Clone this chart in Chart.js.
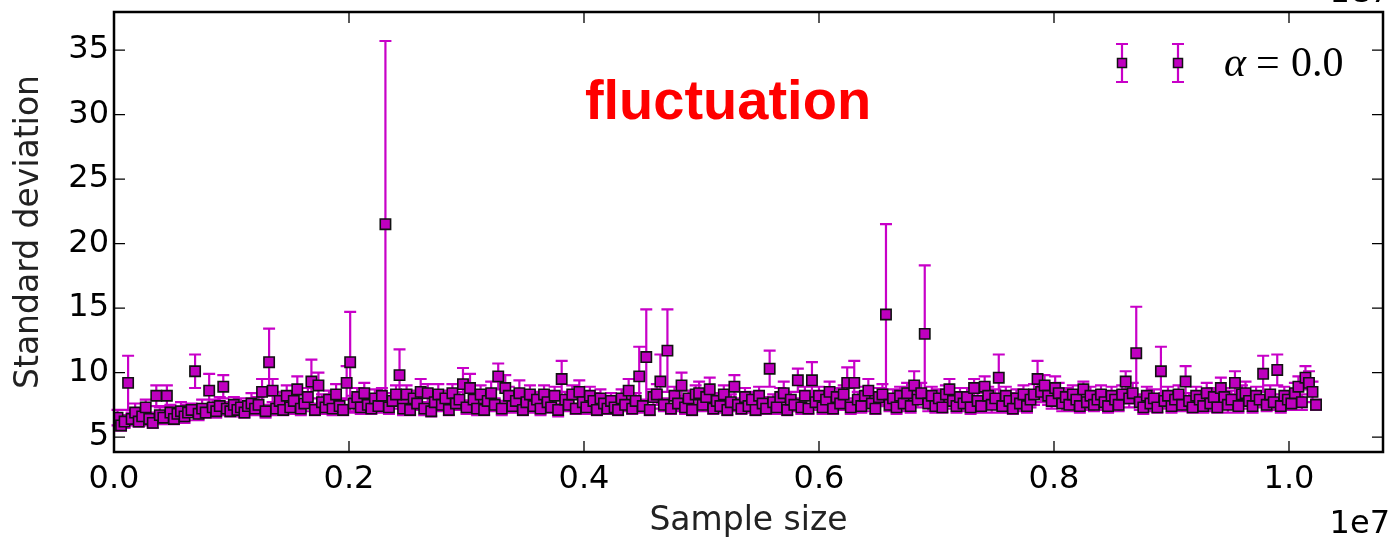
<!DOCTYPE html>
<html><head><meta charset="utf-8">
<script src="https://cdn.jsdelivr.net/npm/chart.js@4/dist/chart.umd.min.js"></script>
<style>html,body{margin:0;padding:0;background:#fff;}canvas{display:block;}</style>
</head><body>
<canvas id="c" width="1395" height="541"></canvas>
<script>
// Sample sizes, in units of 10,000
const SAMPLE_UNIT = 1e4;
const sampleSize10k = [
3,6,9,12,15,18,21,24,27,30,33,36,39,42,45,48,51,54,57,60,
63,66,69,72,75,78,81,84,87,90,93,96,99,102,105,108,111,114,117,120,
123,126,129,132,135,138,141,144,147,150,153,156,159,162,165,168,171,174,177,180,
183,186,189,192,195,198,201,204,207,210,213,216,219,222,225,228,231,234,237,240,
243,246,249,252,255,258,261,264,267,270,273,276,279,282,285,288,291,294,297,300,
303,306,309,312,315,318,321,324,327,330,333,336,339,342,345,348,351,354,357,360,
363,366,369,372,375,378,381,384,387,390,393,396,399,402,405,408,411,414,417,420,
423,426,429,432,435,438,441,444,447,450,453,456,459,462,465,468,471,474,477,480,
483,486,489,492,495,498,501,504,507,510,513,516,519,522,525,528,531,534,537,540,
543,546,549,552,555,558,561,564,567,570,573,576,579,582,585,588,591,594,597,600,
603,606,609,612,615,618,621,624,627,630,633,636,639,642,645,648,651,654,657,660,
663,666,669,672,675,678,681,684,687,690,693,696,699,702,705,708,711,714,717,720,
723,726,729,732,735,738,741,744,747,750,753,756,759,762,765,768,771,774,777,780,
783,786,789,792,795,798,801,804,807,810,813,816,819,822,825,828,831,834,837,840,
843,846,849,852,855,858,861,864,867,870,873,876,879,882,885,888,891,894,897,900,
903,906,909,912,915,918,921,924,927,930,933,936,939,942,945,948,951,954,957,960,
963,966,969,972,975,978,981,984,987,990,993,996,999,1002,1005,1008,1011,1014,1017,1020,
1023];

// Standard deviation (marker value)
const stdDev = [
6.5,5.9,6.2,9.2,6.4,6.9,6.2,6.6,7.3,6.4,6.1,8.2,6.7,6.5,8.2,6.9,6.4,6.8,7.0,6.6,
6.9,7.1,10.1,6.8,7.2,6.9,8.6,7.3,7.0,7.4,8.9,7.2,7.0,7.5,7.1,7.3,6.9,7.4,7.6,7.2,
7.5,8.5,7.0,10.8,8.6,7.2,7.8,7.1,8.2,7.3,7.8,8.7,7.2,7.6,8.1,9.3,7.1,9.0,7.7,7.3,
7.9,7.2,8.3,7.4,7.1,9.2,10.8,7.6,8.1,7.3,8.4,7.5,7.2,8.0,7.4,8.2,21.5,7.3,7.8,8.3,
9.8,7.2,8.3,7.1,8.0,7.6,8.5,7.2,8.4,7.0,7.7,8.3,7.5,8.0,7.1,8.4,7.6,7.9,9.1,7.3,
8.8,7.9,7.2,8.3,7.1,7.8,8.4,7.5,9.7,7.2,8.8,8.2,7.4,7.8,8.4,7.1,7.7,8.3,7.4,7.9,
7.2,8.3,7.7,7.3,8.2,7.1,9.5,7.9,7.5,8.3,7.2,8.5,7.7,7.3,8.2,7.8,7.1,8.0,7.6,7.2,
7.8,7.3,7.1,8.0,7.5,8.6,7.2,7.8,9.7,7.4,11.2,7.1,8.1,8.3,9.3,7.5,11.7,7.2,8.2,7.6,
9.0,7.3,8.0,7.1,8.3,8.4,7.5,8.1,8.7,7.2,7.8,7.4,8.3,7.1,7.7,8.9,7.5,7.2,8.1,7.4,
7.9,7.1,8.2,7.6,7.2,10.3,7.7,7.3,8.1,8.4,7.1,7.9,7.5,9.4,7.3,8.2,7.2,9.4,7.7,8.2,
7.3,7.9,8.5,7.2,8.1,7.6,8.3,9.2,7.3,9.2,7.9,7.4,8.2,8.6,7.6,7.2,8.1,8.3,14.5,7.5,
8.0,7.3,8.2,7.6,8.4,7.4,9.0,7.9,8.4,13.0,7.6,8.2,7.4,8.0,7.3,8.3,8.7,7.8,7.4,8.1,
7.6,8.1,7.3,8.8,7.8,7.4,8.9,8.2,7.5,8.0,9.6,7.4,8.2,7.8,7.2,8.0,7.6,8.3,7.4,7.9,
8.3,9.5,8.5,9.0,8.2,7.8,8.8,8.4,7.6,8.1,7.5,8.3,7.9,7.4,8.7,7.7,8.2,7.5,7.9,8.3,
7.7,7.4,8.2,7.9,7.5,8.3,9.3,8.0,8.4,11.5,7.7,7.3,8.2,7.6,8.0,7.3,10.1,7.8,8.2,7.4,
7.9,8.3,7.5,9.3,7.8,7.3,8.2,7.9,7.4,8.4,7.6,8.1,7.3,8.8,8.1,7.5,7.9,9.2,7.4,8.3,
8.4,7.8,7.4,8.2,7.9,9.9,7.5,8.3,7.7,10.2,7.4,8.2,7.9,7.6,8.4,8.9,7.7,9.6,9.2,8.5,
7.5];

// Error (half-length of error bar)
const stdErr = [
0.6,0.4,0.5,2.1,0.5,0.7,0.4,0.6,0.6,0.5,0.4,0.8,0.6,0.5,0.8,0.6,0.4,0.5,0.7,0.5,
0.6,0.5,1.3,0.5,0.7,0.4,1.3,0.6,0.5,0.7,0.9,0.5,0.4,0.6,0.5,0.7,0.4,0.6,0.8,0.5,
0.6,1.0,0.5,2.6,0.9,0.5,0.7,0.4,0.8,0.5,0.6,1.0,0.5,0.6,0.7,1.7,0.4,1.0,0.6,0.5,
0.7,0.5,0.8,0.6,0.4,1.3,3.9,0.6,0.7,0.5,0.8,0.6,0.4,0.7,0.5,0.6,14.2,0.5,0.6,0.7,
2.0,0.5,0.7,0.4,0.6,0.5,1.0,0.5,0.7,0.4,0.6,0.8,0.5,0.6,0.4,0.7,0.5,0.6,1.25,0.5,
1.1,0.6,0.5,0.7,0.4,0.6,0.9,0.5,1.0,0.5,1.0,0.7,0.5,0.6,1.0,0.4,0.6,0.7,0.5,0.6,
0.5,0.7,0.6,0.4,0.7,0.5,1.4,0.6,0.5,0.7,0.4,0.9,0.6,0.5,0.7,0.6,0.4,0.7,0.5,0.4,
0.6,0.5,0.4,0.7,0.5,0.9,0.4,0.6,2.3,0.5,3.7,0.4,0.6,0.8,2.1,0.5,3.2,0.4,0.7,0.6,
1.0,0.5,0.6,0.4,0.7,0.9,0.5,0.6,0.9,0.4,0.6,0.5,0.7,0.4,0.6,0.9,0.5,0.4,0.7,0.5,
0.6,0.4,0.7,0.5,0.4,1.4,0.6,0.5,0.7,0.9,0.4,0.6,0.5,0.9,0.5,0.7,0.4,1.4,0.6,0.7,
0.5,0.6,0.8,0.4,0.7,0.5,0.7,1.2,0.5,1.7,0.6,0.5,0.7,0.9,0.6,0.4,0.7,0.8,7.0,0.5,
0.7,0.5,0.7,0.6,0.8,0.5,1.1,0.6,0.8,5.3,0.6,0.7,0.5,0.7,0.4,0.7,0.8,0.6,0.5,0.7,
0.6,0.7,0.5,0.7,0.6,0.5,0.8,0.7,0.6,0.7,1.8,0.5,0.7,0.6,0.4,0.7,0.6,0.7,0.5,0.6,
0.8,1.4,0.8,0.8,0.7,0.6,0.9,0.8,0.6,0.7,0.5,0.7,0.6,0.5,0.6,0.6,0.7,0.5,0.6,0.7,
0.6,0.5,0.7,0.6,0.5,0.7,0.8,0.7,0.8,3.6,0.6,0.5,0.7,0.6,0.7,0.4,1.9,0.6,0.7,0.5,
0.6,0.7,0.5,1.2,0.6,0.4,0.7,0.6,0.5,0.8,0.6,0.7,0.4,0.8,0.7,0.6,0.7,0.9,0.5,0.7,
0.9,0.6,0.5,0.7,0.6,1.4,0.5,0.7,0.6,1.2,0.5,0.7,0.6,0.5,0.8,0.8,0.6,0.9,0.9,0.8,
0.4];

const xTicks = [0, 2e6, 4e6, 6e6, 8e6, 1e7];
const xTickLabels = ['0.0', '0.2', '0.4', '0.6', '0.8', '1.0'];
const yTicks = [5, 10, 15, 20, 25, 30, 35];
const yTickLabels = ['5', '10', '15', '20', '25', '30', '35'];
const chartTitle = 'fluctuation';

const MAGENTA = '#bf00bf';
const BAR = '#c800c8';
const TICK_FONT = {family: 'DejaVu Sans', size: 32};
const TITLE_FONT = {family: 'DejaVu Sans', size: 33};

const points = sampleSize10k.map((s, i) => ({x: s * SAMPLE_UNIT, y: stdDev[i]}));

const CAP = 6;
function drawErrBar(ctx, px, pTop, pBot) {
  ctx.moveTo(px, pTop); ctx.lineTo(px, pBot);
  ctx.moveTo(px - CAP, pTop); ctx.lineTo(px + CAP, pTop);
  ctx.moveTo(px - CAP, pBot); ctx.lineTo(px + CAP, pBot);
}
function drawSquare(ctx, px, py, side) {
  ctx.beginPath();
  ctx.rect(px - side / 2, py - side / 2, side, side);
  ctx.fill(); ctx.stroke();
}

const errorBars = {
  id: 'errorBars',
  beforeDatasetsDraw(chart) {
    const {ctx, scales: {x, y}} = chart;
    ctx.save();
    ctx.strokeStyle = BAR;
    ctx.lineWidth = 2.2;
    ctx.beginPath();
    stdDev.forEach((v, i) => {
      const e = stdErr[i];
      if (e == null || sampleSize10k[i] == null) return;
      const px = x.getPixelForValue(sampleSize10k[i] * SAMPLE_UNIT);
      drawErrBar(ctx, px, y.getPixelForValue(v + e), y.getPixelForValue(v - e));
    });
    ctx.stroke();
    ctx.restore();
  },
  afterDraw(chart) {
    const {ctx, chartArea: a, scales: {x, y}} = chart;
    ctx.save();
    // inward ticks on all four sides
    const T = 11;
    ctx.strokeStyle = '#000';
    ctx.lineWidth = 1.3;
    ctx.beginPath();
    yTicks.forEach(v => {
      const py = y.getPixelForValue(v);
      ctx.moveTo(a.left, py); ctx.lineTo(a.left + T, py);
      ctx.moveTo(a.right, py); ctx.lineTo(a.right - T, py);
    });
    xTicks.forEach(v => {
      const px = x.getPixelForValue(v);
      ctx.moveTo(px, a.bottom); ctx.lineTo(px, a.bottom - T);
      ctx.moveTo(px, a.top); ctx.lineTo(px, a.top + T);
    });
    ctx.stroke();
    // frame
    ctx.lineWidth = 2.5;
    ctx.strokeRect(a.left, a.top, a.right - a.left, a.bottom - a.top);

    // legend
    const ly = 63;
    [1122, 1178].forEach(lx => {
      ctx.strokeStyle = BAR; ctx.lineWidth = 2.2;
      ctx.beginPath(); drawErrBar(ctx, lx, 44, 82); ctx.stroke();
      ctx.fillStyle = MAGENTA; ctx.strokeStyle = '#111'; ctx.lineWidth = 1.5;
      drawSquare(ctx, lx, ly, 9);
    });
    ctx.fillStyle = '#000';
    ctx.textBaseline = 'alphabetic';
    ctx.textAlign = 'left';
    ctx.font = 'italic 42px "Liberation Serif"';
    ctx.fillText('\u03B1', 1224, 76);
    ctx.font = '42px "Liberation Serif"';
    ctx.fillText('=', 1256, 76);
    ctx.fillText('0.0', 1291, 76);

    // title text inside plot
    ctx.fillStyle = '#ff0000';
    ctx.textAlign = 'center';
    ctx.font = 'bold 56px "Liberation Sans"';
    ctx.fillText(chartTitle, 728, 119);

    // offset text "1e7"
    ctx.fillStyle = '#000';
    ctx.textAlign = 'right';
    ctx.font = '32px "DejaVu Sans"';
    ctx.fillText('1e7', 1390, 533);
    ctx.fillText('1e7', 1390, 2);
    ctx.restore();
  }
};

new Chart(document.getElementById('c'), {
  type: 'scatter',
  data: {
    datasets: [{
      label: 'alpha=0.0',
      data: points,
      pointStyle: 'rect',
      pointRadius: 7.3,
      pointBorderWidth: 1.6,
      pointBackgroundColor: MAGENTA,
      pointBorderColor: '#111',
      showLine: false
    }]
  },
  options: {
    responsive: false,
    animation: false,
    events: [],
    layout: {padding: {top: 12, right: 12, left: 0, bottom: 0}},
    plugins: {legend: {display: false}, tooltip: {enabled: false}},
    scales: {
      x: {
        type: 'linear', min: 0, max: 10.8e6,
        grid: {display: false, drawTicks: false},
        border: {display: false},
        afterBuildTicks: s => { s.ticks = xTicks.map(v => ({value: v})); },
        afterFit: s => { s.height = 89; s.paddingLeft = 0; s.paddingRight = 0; },
        ticks: {
          autoSkip: false, maxRotation: 0, minRotation: 0,
          color: '#000', font: TICK_FONT, padding: 8,
          callback: (v, i) => xTickLabels[i]
        },
        title: {display: true, text: 'Sample size', color: '#222', font: TITLE_FONT, padding: {top: 0, bottom: 0}}
      },
      y: {
        type: 'linear', min: 3.84, max: 37.95,
        grid: {display: false, drawTicks: false},
        border: {display: false},
        afterBuildTicks: s => { s.ticks = yTicks.map(v => ({value: v})); },
        afterFit: s => { s.width = 114; s.paddingTop = 0; s.paddingBottom = 0; },
        ticks: {
          autoSkip: false, color: '#000', font: TICK_FONT, padding: 5,
          callback: (v, i) => yTickLabels[i]
        },
        title: {display: true, text: 'Standard deviation', color: '#222', font: TITLE_FONT, padding: {top: 10, bottom: 0}}
      }
    }
  },
  plugins: [errorBars]
});
</script>
</body></html>
